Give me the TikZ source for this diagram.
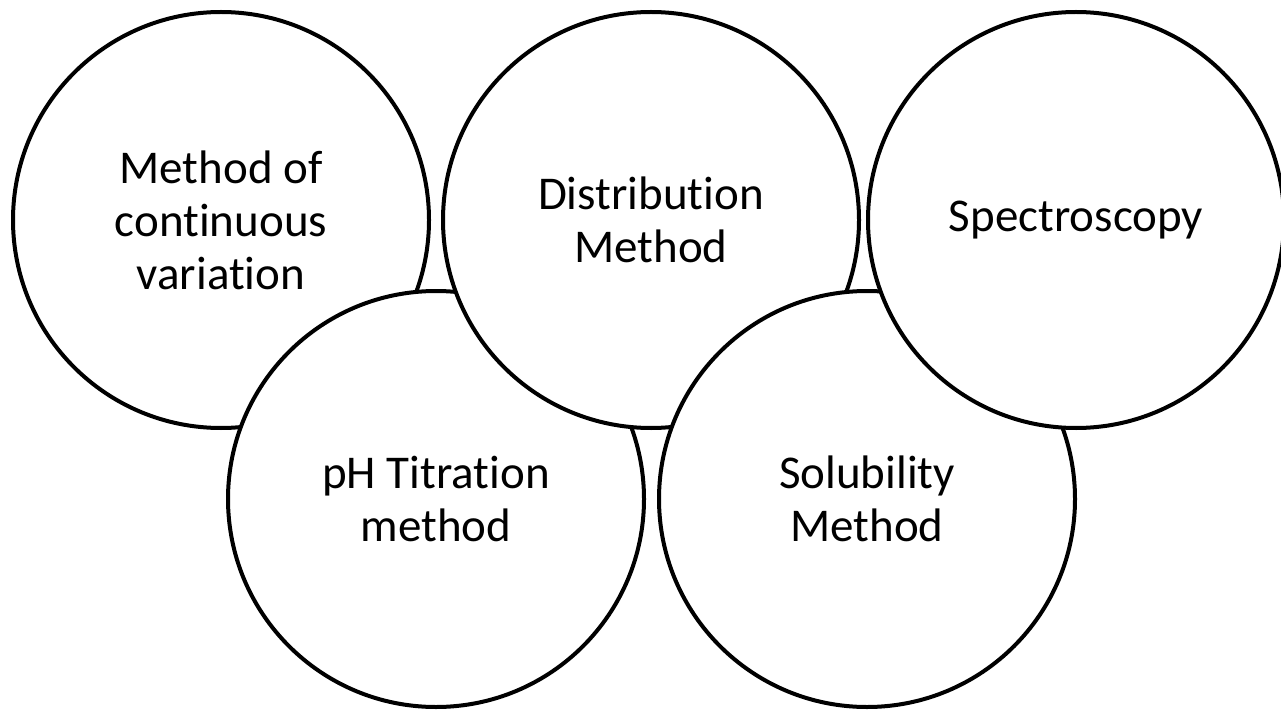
\documentclass[tikz,border=0pt]{standalone}
\usepackage{fontspec}
\setmainfont[Ligatures=NoCommon]{Carlito}
\usepackage{tikz}
\usetikzlibrary{positioning}

\begin{document}
\begin{tikzpicture}[x=1pt,y=1pt,
    method/.style={circle, draw, fill=white, line width=4pt, minimum size=416pt,
        inner sep=0pt, align=center, on grid, font=\fontsize{47}{53}\selectfont}]
    \useasboundingbox (0,0) rectangle (1281,-711);
    %% top row and bottom row, drawn back to front
    \node[method] (m1) at (221,-220) {Method of\\continuous\\variation};
    \node[method, below right =279pt and 215pt of m1] (m4) {pH Titration\\method};
    \node[method, right =430pt of m1] (m2) {Distribution\\Method};
    \node[method, below right =279pt and 216pt of m2] (m5) {Solubility\\Method};
    \node[method, right =425pt of m2] (m3) {Spectroscopy};
\end{tikzpicture}
\end{document}
